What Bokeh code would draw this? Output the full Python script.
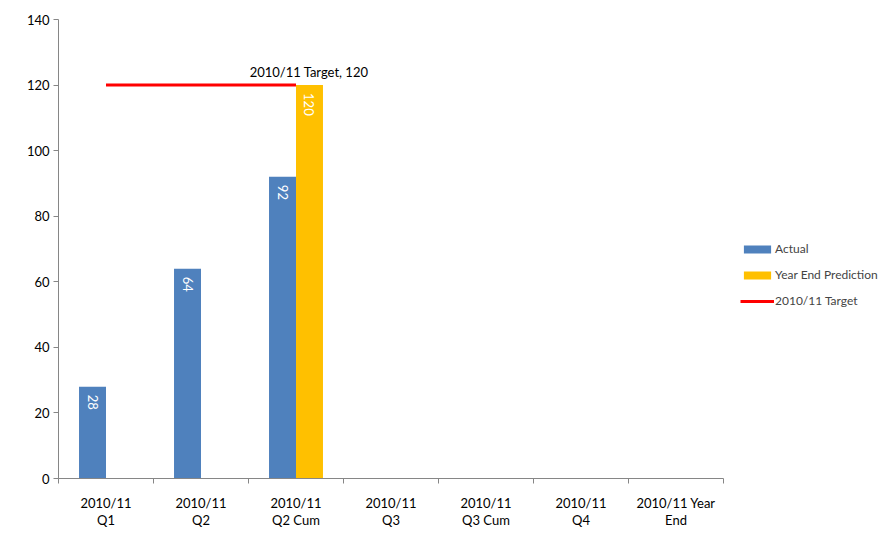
import math
from bokeh.plotting import figure
from bokeh.models import Range1d, FixedTicker, Legend, LegendItem, ColumnDataSource
from bokeh.core.properties import value
from bokeh.embed import file_html
from bokeh.resources import INLINE

categories = ["2010/11\nQ1", "2010/11\nQ2", "2010/11\nQ2 Cum", "2010/11\nQ3",
              "2010/11\nQ3 Cum", "2010/11\nQ4", "2010/11 Year\nEnd"]
actual = [28, 64, 92, None, None, None, None]
prediction = [None, None, 120, None, None, None, None]
target_value = 120
target_span = ["2010/11\nQ1", "2010/11\nQ2 Cum"]
y_ticks = [0, 20, 40, 60, 80, 100, 120, 140]

FONT = "Lato"
BLUE = "#4F81BD"
YELLOW = "#FFC000"
AXIS = "#868686"
bar_w = 0.284

W, H = 881, 538
LEFT, TOP, BOTTOM = 58, 19, 60
AXIS_PX = 665  # pixel length of the category axis
n = len(categories)
x_end = n * (W - LEFT) / AXIS_PX  # frame extends right so the legend sits inside it

p = figure(width=W, height=H, output_backend="svg", toolbar_location=None,
           x_range=Range1d(0, x_end), y_range=Range1d(0, 140),
           min_border_left=LEFT, min_border_right=0, min_border_top=TOP, min_border_bottom=BOTTOM)
p.outline_line_color = None
p.xgrid.visible = False
p.ygrid.visible = False
p.background_fill_color = "white"
p.border_fill_color = "white"

centers = [i + 0.5 for i in range(n)]

a_idx = [i for i, v in enumerate(actual) if v is not None]
src_a = ColumnDataSource(dict(x=[centers[i] - bar_w / 2 for i in a_idx],
                              top=[actual[i] for i in a_idx],
                              lab=[str(actual[i]) for i in a_idx]))
p_idx = [i for i, v in enumerate(prediction) if v is not None]
src_p = ColumnDataSource(dict(x=[centers[i] + bar_w / 2 for i in p_idx],
                              top=[prediction[i] for i in p_idx],
                              lab=[str(prediction[i]) for i in p_idx]))

r_a = p.vbar(x="x", top="top", bottom=0, width=bar_w, source=src_a,
             fill_color=BLUE, line_color=None)
r_p = p.vbar(x="x", top="top", bottom=0, width=bar_w, source=src_p,
             fill_color=YELLOW, line_color=None)

for src in (src_a, src_p):
    p.text(x="x", y="top", text="lab", source=src, angle=-math.pi / 2,
           text_align="left", text_baseline="middle", y_offset=8,
           text_color="white", text_font=value(FONT), text_font_size="13px")

tx = [centers[categories.index(c)] for c in target_span]
r_t = p.line(x=tx, y=[target_value, target_value], line_color="#FF0000", line_width=3)
p.text(x=[tx[-1]], y=[target_value], text=[f"2010/11 Target, {target_value}"],
       x_offset=13, y_offset=-13, text_align="center", text_baseline="middle",
       text_color="black", text_font=value(FONT), text_font_size="13px")

# axes
xa = p.xaxis[0]
xa.bounds = (0, n)
xa.ticker = FixedTicker(ticks=centers, minor_ticks=list(range(n + 1)))
xa.major_label_overrides = {c: lab for c, lab in zip(centers, categories)}
xa.major_tick_out = 0
xa.major_tick_in = 0
xa.minor_tick_out = 5
xa.minor_tick_in = 0
xa.minor_tick_line_color = AXIS
xa.axis_line_color = AXIS
xa.major_label_standoff = 11
xa.major_label_text_font = FONT
xa.major_label_text_font_size = "13px"
xa.major_label_text_line_height = 1.12
xa.major_label_text_color = "black"

ya = p.yaxis[0]
ya.ticker = FixedTicker(ticks=y_ticks, minor_ticks=[])
ya.major_tick_out = 5
ya.major_tick_in = 0
ya.major_tick_line_color = AXIS
ya.axis_line_color = AXIS
ya.minor_tick_line_color = None
ya.major_label_standoff = 4
ya.major_label_text_font = FONT
ya.major_label_text_font_size = "13px"
ya.major_label_text_color = "black"

legend = Legend(items=[LegendItem(label="Actual", renderers=[r_a]),
                       LegendItem(label="Year End Prediction", renderers=[r_p]),
                       LegendItem(label="2010/11 Target", renderers=[r_t])],
                location=(682, 170), padding=0, margin=0, spacing=11,
                glyph_width=34, glyph_height=10, label_height=10, label_standoff=1,
                label_text_font=FONT, label_text_font_size="12px",
                border_line_color=None, background_fill_alpha=0)
p.add_layout(legend, "center")

open("out.html", "w").write(file_html(p, INLINE))
